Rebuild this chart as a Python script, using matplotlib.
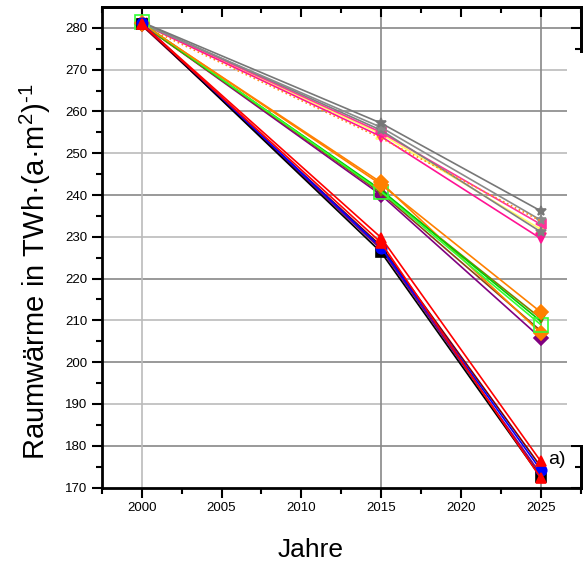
import matplotlib
matplotlib.use("Agg")
import matplotlib.pyplot as plt
from matplotlib.patches import Rectangle

plt.rcParams["mathtext.fontset"] = "custom"
plt.rcParams["mathtext.rm"] = "Liberation Sans"
plt.rcParams["mathtext.it"] = "Liberation Sans:italic"

years = [2000, 2015, 2025]

# Group A (steep decline)
a_black  = [281.0, 226.3, 172.5]
a_maroon = [280.6, 227.8, 175.0]
a_purple = [280.8, 227.0, 173.2]
a_blue   = [281.2, 227.4, 174.2]
a_red2   = [280.9, 228.6, 172.3]
a_red    = [281.0, 229.8, 176.3]

# Group B (middle)
b_purple = [281.0, 240.0, 205.8]
b_brown  = [281.2, 240.5, 207.5]
b_olive  = [280.8, 241.0, 210.5]
b_green  = [281.0, 241.2, 209.8]
b_lime   = [281.3, 240.8, 209.0]
b_orange2 = [281.0, 243.0, 207.0]
b_orange = [281.1, 242.5, 212.0]

# Group C (slow decline)
c_pink1  = [281.0, 254.0, 229.6]
c_pink2  = [281.2, 255.0, 233.0]
c_yellow = [281.1, 254.6, 231.8]
c_orange = [280.6, 253.6, 233.8]
c_grey3  = [281.3, 255.5, 231.2]
c_grey2  = [281.0, 256.2, 234.0]
c_grey1  = [281.4, 257.2, 236.2]

series = [
    # values, color, marker, linestyle, mfc
    (c_yellow, "#ffff66", "^", "-", None),
    (c_pink1, "#ff1493", "v", "-", None),
    (c_pink2, "#ff3399", "<", "-", None),
    (c_grey3, "#808080", "*", "-", None),
    (c_grey2, "#8a8a8a", "*", "-", None),
    (c_grey1, "#777777", "*", "-", None),
    (c_orange, "#ff8c1a", None, ":", None),
    (b_purple, "#800080", "D", "-", None),
    (b_brown, "#8b4513", None, "-", None),
    (b_olive, "#808000", "v", "-", None),
    (b_orange2, "#ff8000", "D", "-", None),
    (b_green, "#00cc00", None, "-", None),
    (b_lime, "#33ff33", "s", "-", "none"),
    (b_orange, "#ff8000", "D", "-", None),
    (a_maroon, "#800000", None, "-", None),
    (a_purple, "#800080", None, "-", None),
    (a_black, "#000000", "s", "-", None),
    (a_blue, "#0000ff", "o", "-", None),
    (a_red2, "#ff0000", "^", "-", None),
    (a_red, "#ff0000", "^", "-", None),
]

xticks = [2000, 2005, 2010, 2015, 2020, 2025]
yticks = list(range(170, 281, 10))
xminor = [1997.5 + 2.5 * i for i in range(13)]
yminor = list(range(170, 285, 5))

W, H = 585, 573
fig = plt.figure(figsize=(W / 100, H / 100), dpi=100)
ax = fig.add_axes([101.8 / W, 1 - 487.5 / H, (580.6 - 101.8) / W, (487.5 - 7) / H])

# grid
for v in range(180, 281, 10):
    ax.axhline(v, color="#888888" if v % 20 == 0 else "#bbbbbb", lw=1.2, zorder=0)
for x in years:
    ax.axvline(x, color="#bbbbbb" if x == 2000 else "#888888", lw=1.2, zorder=0)

for vals, col, mk, ls, mfc in series:
    kw = dict(color=col, lw=1.2, ls=ls, zorder=3)
    if mk is not None:
        kw.update(marker=mk, ms=7.5 if mk != "s" or mfc is None else 10,
                  mec=col, mfc=col if mfc is None else mfc, mew=1.2)
    ax.plot(years, vals, **kw)

ax.set_xlim(1997.5, 2027.5)
ax.set_ylim(170, 285)
ax.set_xticks(xticks)
ax.set_xticks(xminor, minor=True)
ax.set_yticks(yticks)
ax.set_yticks(yminor, minor=True)
ax.tick_params(axis="both", which="major", direction="out", length=7, width=1.5,
               labelsize=9.5)
ax.tick_params(axis="both", which="minor", direction="out", length=4, width=1.5)
for lab in ax.get_xticklabels() + ax.get_yticklabels():
    lab.set_fontfamily("Liberation Sans")
for sp in ax.spines.values():
    sp.set_linewidth(2)

# inward ticks on top and right
top = ax.secondary_xaxis("top")
top.set_xticks(xticks)
top.set_xticks(xminor, minor=True)
top.tick_params(which="major", direction="in", length=7, width=1.5, labeltop=False)
top.tick_params(which="minor", direction="in", length=4, width=1.5)
top.spines["top"].set_linewidth(2)
right = ax.secondary_yaxis("right")
right.set_yticks(yticks)
right.set_yticks(yminor, minor=True)
right.tick_params(which="major", direction="in", length=7, width=1.5, labelright=False)
right.tick_params(which="minor", direction="in", length=4, width=1.5)
right.spines["right"].set_linewidth(2)

# cover the middle of the right frame (as in the reference)
fig.patches.append(Rectangle((567 / W, 1 - 445 / H), 20 / W, (445 - 53) / H,
                             transform=fig.transFigure, facecolor="white",
                             edgecolor="none", zorder=10))

fig.text(548 / W, 1 - 460 / H, "a)", fontsize=14, family="Liberation Sans",
         va="center", ha="left", zorder=11)
fig.text(311 / W, 1 - 550 / H, "Jahre", fontsize=19, family="Liberation Sans",
         ha="center", va="center")
fig.text(35 / W, 1 - 272 / H, "Raumwärme in TWh·(a·m$^2$)$^{\\text{-}1}$", fontsize=21,
         family="Liberation Sans", rotation=90, ha="center", va="center")

fig.savefig("out.png", dpi=100)
